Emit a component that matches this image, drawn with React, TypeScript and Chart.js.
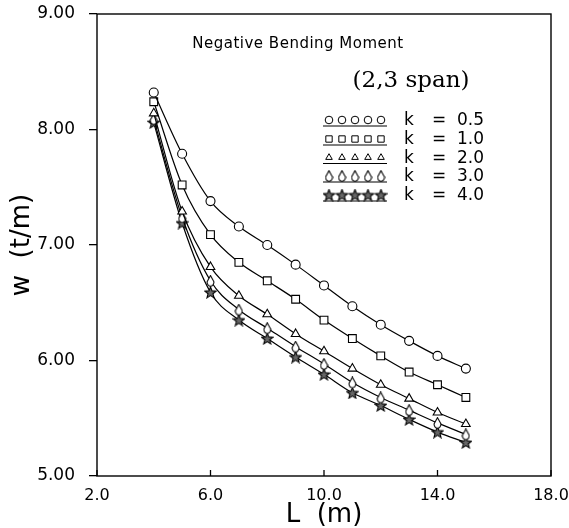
import React, { useEffect, useRef } from "react";
import { Chart, registerables } from "chart.js";
import { drawPoint } from "chart.js/helpers";

Chart.register(...registerables);

const spans = [4, 5, 6, 7, 8, 9, 10, 11, 12, 13, 14, 15];
const kLabels = ["0.5", "1.0", "2.0", "3.0", "4.0"];
const wK05 = [8.32, 7.79, 7.38, 7.16, 7.0, 6.83, 6.65, 6.47, 6.31, 6.17, 6.04, 5.93];
const wK10 = [8.24, 7.52, 7.09, 6.85, 6.69, 6.53, 6.35, 6.19, 6.04, 5.9, 5.79, 5.68];
const wK20 = [8.14, 7.29, 6.81, 6.56, 6.4, 6.23, 6.08, 5.93, 5.79, 5.67, 5.55, 5.45];
const wK30 = [8.09, 7.24, 6.69, 6.44, 6.28, 6.12, 5.97, 5.81, 5.68, 5.57, 5.46, 5.36];
const wK40 = [8.06, 7.19, 6.59, 6.35, 6.19, 6.03, 5.88, 5.72, 5.61, 5.49, 5.38, 5.29];
const xTicks = [2, 6, 10, 14, 18];
const yTicks = [5, 6, 7, 8, 9];
const chartTitle = "Negative Bending Moment";
const chartSubtitle = "(2,3 span)";

function makeStar(): HTMLCanvasElement {
  const c = document.createElement("canvas");
  c.width = 13;
  c.height = 13;
  const g = c.getContext("2d")!;
  g.beginPath();
  for (let i = 0; i < 10; i++) {
    const r = i % 2 === 0 ? 6 : 2.6;
    const a = -Math.PI / 2 + (i * Math.PI) / 5;
    const px = 6.5 + r * Math.cos(a);
    const py = 7 + r * Math.sin(a);
    if (i === 0) g.moveTo(px, py);
    else g.lineTo(px, py);
  }
  g.closePath();
  g.fillStyle = "#666";
  g.fill();
  g.strokeStyle = "#000";
  g.lineWidth = 1.1;
  g.stroke();
  return c;
}

function makeDiamond(): HTMLCanvasElement {
  const c = document.createElement("canvas");
  c.width = 9;
  c.height = 12;
  const g = c.getContext("2d")!;
  g.beginPath();
  g.moveTo(4.5, 0.7);
  g.lineTo(8, 7);
  g.quadraticCurveTo(7.6, 11.2, 4.5, 11.3);
  g.quadraticCurveTo(1.4, 11.2, 1, 7);
  g.closePath();
  g.fillStyle = "#fff";
  g.fill();
  g.strokeStyle = "#000";
  g.lineWidth = 1.1;
  g.stroke();
  return c;
}

export default function App() {
  const ref = useRef<HTMLCanvasElement | null>(null);

  useEffect(() => {
    const canvas = ref.current;
    if (!canvas) return;
    const star = makeStar();
    const diamond = makeDiamond();
    const series = [wK05, wK10, wK20, wK30, wK40];
    const styles: any[] = ["circle", "rect", "triangle", diamond, star];
    const radii = [4.5, 5.5, 5, 5, 5];

    const datasets = series.map((vals, i) => ({
      label: "k = " + kLabels[i],
      data: spans.map((x, j) => ({ x, y: vals[j] })),
      borderColor: "#000",
      borderWidth: 1.2,
      cubicInterpolationMode: "monotone" as const,
      pointStyle: styles[i],
      pointRadius: radii[i],
      pointBackgroundColor: "#fff",
      pointBorderColor: "#000",
      pointBorderWidth: 1.1,
    }));

    const decor = {
      id: "decor",
      afterDatasetsDraw(chart: any) {
        const { ctx, chartArea: ca, scales } = chart;
        ctx.save();
        ctx.strokeStyle = "#000";
        ctx.lineWidth = 1.4;
        ctx.strokeRect(ca.left, ca.top, ca.right - ca.left, ca.bottom - ca.top);
        ctx.lineWidth = 1.3;
        xTicks.forEach((v) => {
          const px = scales.x.getPixelForValue(v);
          ctx.beginPath();
          ctx.moveTo(px, ca.bottom);
          ctx.lineTo(px, ca.bottom - 6);
          ctx.stroke();
        });
        ctx.fillStyle = "#000";
        ctx.textBaseline = "middle";
        ctx.textAlign = "center";
        ctx.font = "15px 'DejaVu Sans'";
        (ctx as any).letterSpacing = "0.5px";
        ctx.fillText(chartTitle, 298, 44);
        (ctx as any).letterSpacing = "0px";
        ctx.font = "23px 'DejaVu Serif'";
        ctx.fillText(chartSubtitle, 411, 81);
        const rowY = [121, 140, 158.5, 177, 196];
        chart.data.datasets.forEach((ds: any, i: number) => {
          const y = rowY[i];
          ctx.fillStyle = i === 4 ? "#666" : "#fff";
          ctx.strokeStyle = "#000";
          ctx.lineWidth = 1;
          for (let m = 0; m < 5; m++) {
            const mx = 329 + m * 13;
            drawPoint(ctx, { pointStyle: ds.pointStyle, radius: i === 1 ? 4.5 : 3.8, rotation: 0, borderWidth: 1 } as any, mx, y - 1);
          }
          ctx.beginPath();
          ctx.lineWidth = 1.2;
          ctx.moveTo(323, y + 5);
          ctx.lineTo(387, y + 5);
          ctx.stroke();
          ctx.fillStyle = "#000";
          ctx.font = "17px 'DejaVu Sans'";
          ctx.textAlign = "left";
          ctx.fillText("k", 404, y);
          ctx.fillText("=", 432, y);
          ctx.fillText(kLabels[i], 457, y);
        });
        ctx.restore();
      },
    };

    const chart = new Chart(canvas, {
      type: "line",
      data: { datasets },
      options: {
        responsive: false,
        animation: false,
        devicePixelRatio: 1,
        layout: { padding: { top: 14, right: 18, left: 0, bottom: 0 } },
        plugins: { legend: { display: false }, tooltip: { enabled: false } },
        scales: {
          x: {
            type: "linear",
            min: 2,
            max: 18,
            afterBuildTicks: (s: any) => {
              s.ticks = xTicks.map((v) => ({ value: v }));
            },
            ticks: {
              callback: (v: any) => Number(v).toFixed(1),
              color: "#000",
              font: { family: "DejaVu Sans", size: 16 },
              padding: 2,
              maxRotation: 0,
              autoSkip: false,
            },
            grid: { display: false },
            border: { display: false },
            title: {
              display: true,
              text: "L  (m)",
              color: "#000",
              font: { family: "DejaVu Sans", size: 26, lineHeight: 1 },
              padding: { top: 0, bottom: 0 },
            },
            afterFit: (s: any) => {
              s.height = 52;
              s.paddingLeft = 0;
              s.paddingRight = 0;
            },
          },
          y: {
            type: "linear",
            min: 5,
            max: 9,
            afterBuildTicks: (s: any) => {
              s.ticks = yTicks.map((v) => ({ value: v }));
            },
            ticks: {
              callback: (v: any) => Number(v).toFixed(2),
              color: "#000",
              font: { family: "DejaVu Sans", size: 17 },
              padding: 14,
              autoSkip: false,
            },
            grid: { drawOnChartArea: false, drawTicks: true, tickLength: 8, color: "#000", lineWidth: 1.3 },
            border: { display: false },
            title: {
              display: true,
              text: "w  (t/m)",
              color: "#000",
              font: { family: "DejaVu Sans", size: 26, lineHeight: 1 },
              padding: { top: 9, bottom: 0 },
            },
            afterFit: (s: any) => {
              s.width = 97;
              s.paddingTop = 0;
              s.paddingBottom = 0;
            },
          },
        },
      },
      plugins: [decor],
    });
    return () => chart.destroy();
  }, []);

  return (
    <div style={{ position: "absolute", left: 0, top: 0, width: 569, height: 528, background: "#fff" }}>
      <canvas ref={ref} width={569} height={528} />
    </div>
  );
}
